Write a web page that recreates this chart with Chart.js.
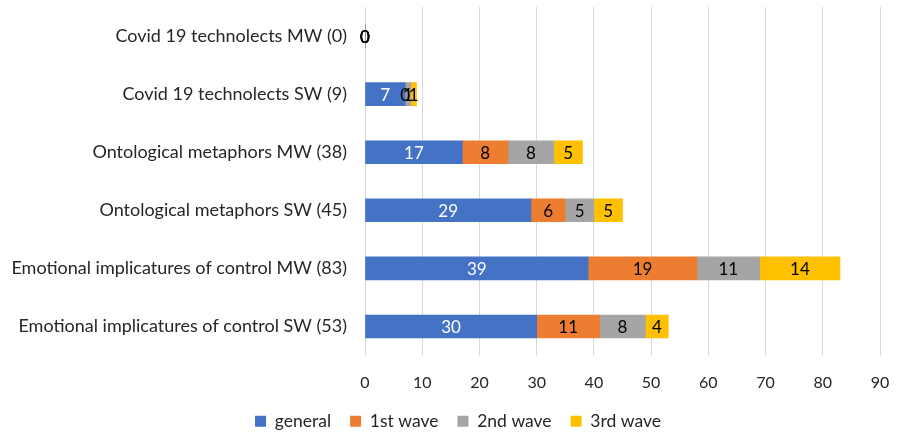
<!DOCTYPE html>
<html>
<head>
<meta charset="utf-8">
<script src="https://cdn.jsdelivr.net/npm/chart.js@4/dist/chart.umd.min.js"></script>
<style>
html,body{margin:0;padding:0;background:#fff;}
#wrap{width:898px;height:432px;position:relative;}
</style>
</head>
<body>
<div id="wrap"><canvas id="c" width="898" height="432"></canvas></div>
<script>
const categories = [
  "Covid 19 technolects MW (0)",
  "Covid 19 technolects SW (9)",
  "Ontological metaphors MW (38)",
  "Ontological metaphors SW (45)",
  "Emotional implicatures of control MW (83)",
  "Emotional implicatures of control SW (53)"
];
const generalValues = [0, 7, 17, 29, 39, 30];
const wave1Values   = [0, 0, 8, 6, 19, 11];
const wave2Values   = [0, 1, 8, 5, 11, 8];
const wave3Values   = [0, 1, 5, 5, 14, 4];
const xTicks = [0, 10, 20, 30, 40, 50, 60, 70, 80, 90];

const FONT = "Lato, 'Open Sans', sans-serif";

const labelPlugin = {
  id: 'barLabels',
  afterLayout(chart) {
    if (chart.legend) { chart.legend.left += 18; chart.legend.right += 18; }
  },
  afterDatasetsDraw(chart) {
    const ctx = chart.ctx;
    ctx.save();
    ctx.font = "17px " + FONT;
    ctx.textAlign = 'center';
    ctx.textBaseline = 'middle';
    chart.data.datasets.forEach((ds, di) => {
      const meta = chart.getDatasetMeta(di);
      meta.data.forEach((el, i) => {
        const v = ds.data[i];
        const cx = (el.x + el.base) / 2;
        ctx.fillStyle = (di === 0 && v !== 0) ? '#ffffff' : '#000000';
        ctx.fillText(String(v), cx, el.y + 1);
      });
    });
    ctx.restore();
  }
};

new Chart(document.getElementById('c'), {
  type: 'bar',
  data: {
    labels: categories,
    datasets: [
      { label: 'general', data: generalValues, backgroundColor: '#4472C4' },
      { label: '1st wave', data: wave1Values, backgroundColor: '#ED7D31' },
      { label: '2nd wave', data: wave2Values, backgroundColor: '#A5A5A5' },
      { label: '3rd wave', data: wave3Values, backgroundColor: '#FFC000' }
    ]
  },
  options: {
    indexAxis: 'y',
    responsive: false,
    animation: false,
    maintainAspectRatio: false,
    layout: { padding: { top: 7, right: 18, bottom: -8, left: 0 } },
    datasets: { bar: { barThickness: 23 } },
    scales: {
      x: {
        stacked: true,
        min: 0, max: 90,
        afterBuildTicks: (s) => { s.ticks = xTicks.map(v => ({ value: v })); },
        afterFit: (s) => { s.height = 38; s.paddingLeft = 0; s.paddingRight = 0; },
        grid: { color: '#d9d9d9', drawTicks: false },
        border: { display: false },
        ticks: { color: '#262626', font: { family: FONT, size: 16 }, padding: 18 }
      },
      y: {
        stacked: true,
        afterFit: (s) => { s.width = 365; s.paddingTop = 0; s.paddingBottom = 0; },
        grid: { display: false, drawTicks: false },
        border: { display: false },
        ticks: { color: '#262626', font: { family: FONT, size: 18 }, padding: 18 }
      }
    },
    plugins: {
      legend: {
        position: 'bottom',
        labels: {
          color: '#262626',
          font: { family: FONT, size: 17.5 },
          boxWidth: 11, boxHeight: 11,
          padding: 19
        }
      },
      tooltip: { enabled: false }
    }
  },
  plugins: [labelPlugin]
});
</script>
</body>
</html>
